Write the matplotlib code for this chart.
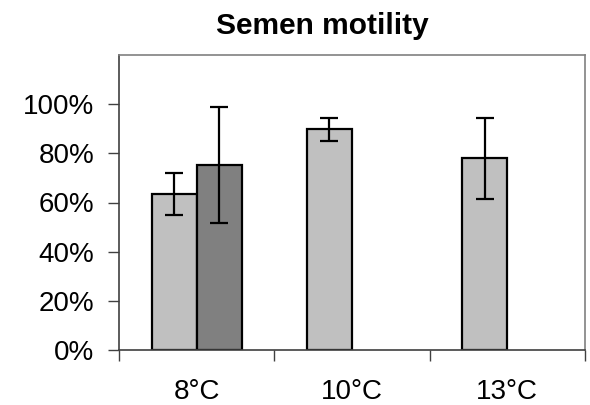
import numpy as np
import matplotlib
matplotlib.use("Agg")
import matplotlib.pyplot as plt
from matplotlib.ticker import FixedLocator, NullFormatter, FixedFormatter

plt.rcParams['font.family'] = ['Liberation Sans', 'DejaVu Sans']

categories = ['8°C', '10°C', '13°C']
series_a = [0.636, 0.897, 0.780]
err_a = [0.086, 0.045, 0.164]
series_b = [0.752, np.nan, np.nan]
err_b = [0.236, np.nan, np.nan]
yticks = [0, 0.2, 0.4, 0.6, 0.8, 1.0]
ytick_labels = ['0%', '20%', '40%', '60%', '80%', '100%']
title = 'Semen motility'

fig = plt.figure(figsize=(5.9, 4.05), dpi=100)
ax = fig.add_axes([119/590, 55/405, (585-119)/590, (350-55)/405])

x = np.arange(len(categories))
w = 0.29
lw = 1.6
ax.bar(x - w/2, series_a, width=w, color='#C0C0C0', edgecolor='black', linewidth=lw, zorder=2)
ax.bar(x + w/2, series_b, width=w, color='#808080', edgecolor='black', linewidth=lw, zorder=2)
ax.errorbar(x - w/2, series_a, yerr=err_a, fmt='none', ecolor='black', elinewidth=lw, capsize=6.3, capthick=lw, zorder=3)
ax.errorbar(x + w/2, series_b, yerr=err_b, fmt='none', ecolor='black', elinewidth=lw, capsize=6.3, capthick=lw, zorder=3)

ax.set_xlim(-0.5, len(categories) - 0.5)
ax.set_ylim(0, 1.2)
ax.yaxis.set_major_locator(FixedLocator(yticks))
ax.yaxis.set_major_formatter(FixedFormatter(ytick_labels))
ax.xaxis.set_major_locator(FixedLocator(np.arange(len(categories) + 1) - 0.5))
ax.xaxis.set_major_formatter(NullFormatter())
ax.xaxis.set_minor_locator(FixedLocator(x))
ax.xaxis.set_minor_formatter(FixedFormatter(categories))
ax.tick_params(axis='y', which='major', direction='out', length=8, width=1, color='#404040', labelsize=20, pad=10)
ax.tick_params(axis='x', which='major', direction='out', length=8, width=1, color='#404040')
ax.tick_params(axis='x', which='minor', length=0, labelsize=20, pad=21)

ax.spines['left'].set_color('#404040')
ax.spines['bottom'].set_color('#404040')
ax.spines['top'].set_color('#808080')
ax.spines['right'].set_color('#808080')
for s in ax.spines.values():
    s.set_linewidth(1.2)

fig.text(0.547, 0.936, title, ha='center', va='center', fontsize=21.5, fontweight='bold')

fig.savefig('out.png', dpi=100)
